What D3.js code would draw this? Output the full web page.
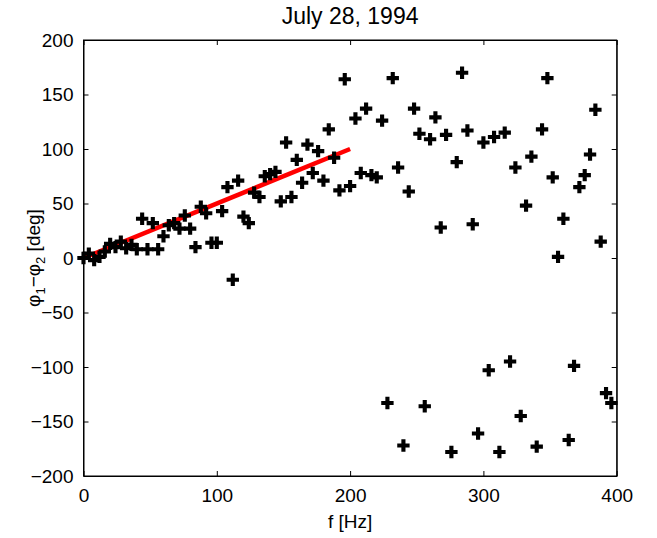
<!DOCTYPE html>
<html>
<head>
<meta charset="utf-8">
<script src="https://cdn.jsdelivr.net/npm/d3@7"></script>
<style>
  body { margin: 0; background: #fff; }
  text { font-family: "Liberation Sans", Arial, sans-serif; }
</style>
</head>
<body>
<svg id="chart" width="657" height="538"></svg>
<script>
// frequency in Hz (4 Hz step) and phase difference in deg
var freqs = d3.range(0, 400, 4);
var phase = [
    0, 4, -2, 1, 6, 13, 10, 15, 9, 12,
    8, 36, 8, 32, 8, 20, 30, 32, 27, 39,
    27, 10, 47, 41, 14, 14, 43, 65, -20, 71,
    38, 32, 60, 56, 75, 77, 79, 52, 106, 56,
    90, 69, 104, 78, 98, 71, 118, 92, 62, 164,
    66, 128, 78, 137, 76, 74, 126, -133, 165, 83,
    -172, 61, 137, 114, -136, 109, 129, 28, 113, -178,
    88, 170, 117, 31, -161, 106, -103, 111, -178, 115,
    -95, 83, -145, 48, 93, -173, 118, 165, 74, 1,
    36, -167, -99, 65, 76, 95, 136, 15, -124, -133
];
// linear fit drawn in red
var fitF = [0, 200];
var fitP = [0, 100];

var xTicks = [0, 100, 200, 300, 400];
var yTicks = [-200, -150, -100, -50, 0, 50, 100, 150, 200];

var margin = {top: 40, right: 40, bottom: 62, left: 83.5};
var width = 616.7 - margin.left;
var height = 476 - margin.top;

var svg = d3.select("#chart");
var g = svg.append("g")
    .attr("transform", "translate(" + margin.left + "," + margin.top + ")");

var x = d3.scaleLinear().domain([0, 400]).range([0, width]);
var y = d3.scaleLinear().domain([-200, 200]).range([height, 0]);

function fmt(d) { return d < 0 ? "\u2212" + Math.abs(d) : String(d); }

// axes, ticks inward, box on all sides
g.append("g").attr("transform", "translate(0," + height + ")")
    .call(d3.axisBottom(x).tickValues(xTicks).tickSizeInner(-5).tickSizeOuter(0).tickPadding(13).tickFormat(fmt));
g.append("g")
    .call(d3.axisLeft(y).tickValues(yTicks).tickSizeInner(-5).tickSizeOuter(0).tickPadding(10).tickFormat(fmt));
g.append("g")
    .call(d3.axisTop(x).tickValues(xTicks).tickSizeInner(-5).tickSizeOuter(0).tickFormat(""));
g.append("g").attr("transform", "translate(" + width + ",0)")
    .call(d3.axisRight(y).tickValues(yTicks).tickSizeInner(-5).tickSizeOuter(0).tickFormat(""));

g.selectAll(".domain").attr("stroke", "#000").attr("stroke-width", 1);
g.selectAll(".tick line").attr("stroke", "#000");
g.selectAll(".tick text").attr("fill", "#000").style("font-size", "19px");

g.append("rect")
    .attr("width", width).attr("height", height)
    .attr("fill", "none").attr("stroke", "#000").attr("stroke-width", 1);

// red fit line
var line = d3.line().x(function (d) { return x(d[0]); }).y(function (d) { return y(d[1]); });
g.append("path")
    .datum(d3.zip(fitF, fitP))
    .attr("d", line)
    .attr("fill", "none")
    .attr("stroke", "#ff0000")
    .attr("stroke-width", 4.5);

// data markers
var pts = d3.zip(freqs, phase);
g.selectAll("path.pt")
    .data(pts)
    .enter().append("path")
    .attr("class", "pt")
    .attr("d", d3.symbol().type(d3.symbolCross).size(85))
    .attr("transform", function (d) { return "translate(" + x(d[0]) + "," + y(d[1]) + ")"; })
    .attr("fill", "#000");

// title and labels
svg.append("text")
    .attr("x", margin.left + width / 2).attr("y", 24)
    .attr("text-anchor", "middle")
    .style("font-size", "23px")
    .text("July 28, 1994");

svg.append("text")
    .attr("x", margin.left + width / 2).attr("y", 528)
    .attr("text-anchor", "middle")
    .style("font-size", "19px")
    .text("f [Hz]");

var yl = svg.append("text")
    .attr("transform", "translate(40," + (margin.top + height / 2) + ") rotate(-90)")
    .attr("text-anchor", "middle")
    .style("font-size", "19px");
yl.append("tspan").text("\u03c6");
yl.append("tspan").attr("dy", 5).style("font-size", "13px").text("1");
yl.append("tspan").attr("dy", -5).text("\u2212\u03c6");
yl.append("tspan").attr("dy", 5).style("font-size", "13px").text("2");
yl.append("tspan").attr("dy", -5).text(" [deg]");
</script>
</body>
</html>
